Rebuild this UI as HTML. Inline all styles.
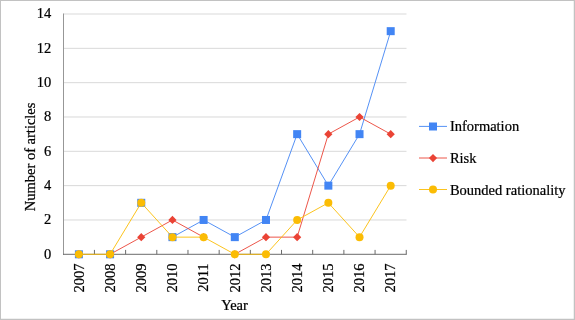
<!DOCTYPE html>
<html><head><meta charset="utf-8"><title>Chart</title>
<style>html,body{margin:0;padding:0;background:#fff}svg{display:block}text{stroke:#000;stroke-width:.22px}</style></head>
<body>
<svg width="575" height="320" viewBox="0 0 575 320" font-family="'Liberation Serif', 'Times New Roman', serif" font-size="14.5px" fill="#000">
<rect x="0" y="0" width="575" height="320" fill="#fff"/>
<rect x="0" y="0" width="575" height="1" fill="#c2c2c2"/>
<rect x="0" y="0" width="1" height="320" fill="#c2c2c2"/>
<rect x="573.75" y="0" width="1.25" height="320" fill="#c2c2c2"/>
<rect x="0" y="318.75" width="575" height="1.25" fill="#c2c2c2"/>
<line x1="63.5" x2="406.5" y1="219.97" y2="219.97" stroke="#d9d9d9" stroke-width="1"/>
<line x1="63.5" x2="406.5" y1="185.64" y2="185.64" stroke="#d9d9d9" stroke-width="1"/>
<line x1="63.5" x2="406.5" y1="151.31" y2="151.31" stroke="#d9d9d9" stroke-width="1"/>
<line x1="63.5" x2="406.5" y1="116.99" y2="116.99" stroke="#d9d9d9" stroke-width="1"/>
<line x1="63.5" x2="406.5" y1="82.66" y2="82.66" stroke="#d9d9d9" stroke-width="1"/>
<line x1="63.5" x2="406.5" y1="48.33" y2="48.33" stroke="#d9d9d9" stroke-width="1"/>
<line x1="63.5" x2="406.5" y1="14.00" y2="14.00" stroke="#d9d9d9" stroke-width="1"/>
<line x1="63.5" x2="63.5" y1="13.5" y2="254.8" stroke="#979797" stroke-width="1"/>
<line x1="63.0" x2="406.75" y1="254.3" y2="254.3" stroke="#6c6c6c" stroke-width="1"/>
<line x1="94.43" x2="94.43" y1="249.90" y2="254.3" stroke="#6a6a6a" stroke-width="1"/>
<line x1="125.61" x2="125.61" y1="249.90" y2="254.3" stroke="#6a6a6a" stroke-width="1"/>
<line x1="156.80" x2="156.80" y1="249.90" y2="254.3" stroke="#6a6a6a" stroke-width="1"/>
<line x1="187.98" x2="187.98" y1="249.90" y2="254.3" stroke="#6a6a6a" stroke-width="1"/>
<line x1="219.16" x2="219.16" y1="249.90" y2="254.3" stroke="#6a6a6a" stroke-width="1"/>
<line x1="250.34" x2="250.34" y1="249.90" y2="254.3" stroke="#6a6a6a" stroke-width="1"/>
<line x1="281.52" x2="281.52" y1="249.90" y2="254.3" stroke="#6a6a6a" stroke-width="1"/>
<line x1="312.70" x2="312.70" y1="249.90" y2="254.3" stroke="#6a6a6a" stroke-width="1"/>
<line x1="343.89" x2="343.89" y1="249.90" y2="254.3" stroke="#6a6a6a" stroke-width="1"/>
<line x1="375.07" x2="375.07" y1="249.90" y2="254.3" stroke="#6a6a6a" stroke-width="1"/>
<line x1="406.25" x2="406.25" y1="249.90" y2="254.3" stroke="#6a6a6a" stroke-width="1"/>
<text x="51.2" y="258.60" text-anchor="end">0</text>
<text x="51.2" y="224.27" text-anchor="end">2</text>
<text x="51.2" y="189.94" text-anchor="end">4</text>
<text x="51.2" y="155.61" text-anchor="end">6</text>
<text x="51.2" y="121.29" text-anchor="end">8</text>
<text x="51.2" y="86.96" text-anchor="end">10</text>
<text x="51.2" y="52.63" text-anchor="end">12</text>
<text x="51.2" y="18.30" text-anchor="end">14</text>
<text transform="translate(83.65,263.4) rotate(-90)" text-anchor="end">2007</text>
<text transform="translate(114.83,263.4) rotate(-90)" text-anchor="end">2008</text>
<text transform="translate(146.01,263.4) rotate(-90)" text-anchor="end">2009</text>
<text transform="translate(177.19,263.4) rotate(-90)" text-anchor="end">2010</text>
<text transform="translate(208.37,263.4) rotate(-90)" text-anchor="end">2011</text>
<text transform="translate(239.55,263.4) rotate(-90)" text-anchor="end">2012</text>
<text transform="translate(270.73,263.4) rotate(-90)" text-anchor="end">2013</text>
<text transform="translate(301.91,263.4) rotate(-90)" text-anchor="end">2014</text>
<text transform="translate(333.09,263.4) rotate(-90)" text-anchor="end">2015</text>
<text transform="translate(364.27,263.4) rotate(-90)" text-anchor="end">2016</text>
<text transform="translate(395.45,263.4) rotate(-90)" text-anchor="end">2017</text>
<text x="234.5" y="309.9" text-anchor="middle">Year</text>
<text transform="translate(34.8,156.9) rotate(-90)" text-anchor="middle">Number of articles</text>
<path d="M172.44 237.14L203.62 219.97L234.80 237.14L265.98 219.97L297.16 134.15L328.35 185.64L359.53 134.15L390.71 31.16" fill="none" stroke="#4285f4" stroke-width="0.9" stroke-linejoin="round"/>
<rect x="74.89" y="250.30" width="8.0" height="8.0" fill="#4285f4"/>
<rect x="106.07" y="250.30" width="8.0" height="8.0" fill="#4285f4"/>
<rect x="137.25" y="198.81" width="8.0" height="8.0" fill="#4285f4"/>
<rect x="168.44" y="233.14" width="8.0" height="8.0" fill="#4285f4"/>
<rect x="199.62" y="215.97" width="8.0" height="8.0" fill="#4285f4"/>
<rect x="230.80" y="233.14" width="8.0" height="8.0" fill="#4285f4"/>
<rect x="261.98" y="215.97" width="8.0" height="8.0" fill="#4285f4"/>
<rect x="293.16" y="130.15" width="8.0" height="8.0" fill="#4285f4"/>
<rect x="324.35" y="181.64" width="8.0" height="8.0" fill="#4285f4"/>
<rect x="355.53" y="130.15" width="8.0" height="8.0" fill="#4285f4"/>
<rect x="386.71" y="27.16" width="8.0" height="8.0" fill="#4285f4"/>
<path d="M110.07 254.30L141.25 237.14L172.44 219.97L203.62 237.14M234.80 254.30L265.98 237.14L297.16 237.14L328.35 134.15L359.53 116.99L390.71 134.15" fill="none" stroke="#ea4335" stroke-width="0.9" stroke-linejoin="round"/>
<path d="M74.79 254.30L78.89 250.20L82.99 254.30L78.89 258.40Z" fill="#ea4335"/>
<path d="M105.97 254.30L110.07 250.20L114.17 254.30L110.07 258.40Z" fill="#ea4335"/>
<path d="M137.15 237.14L141.25 233.04L145.35 237.14L141.25 241.24Z" fill="#ea4335"/>
<path d="M168.34 219.97L172.44 215.87L176.54 219.97L172.44 224.07Z" fill="#ea4335"/>
<path d="M199.52 237.14L203.62 233.04L207.72 237.14L203.62 241.24Z" fill="#ea4335"/>
<path d="M230.70 254.30L234.80 250.20L238.90 254.30L234.80 258.40Z" fill="#ea4335"/>
<path d="M261.88 237.14L265.98 233.04L270.08 237.14L265.98 241.24Z" fill="#ea4335"/>
<path d="M293.06 237.14L297.16 233.04L301.26 237.14L297.16 241.24Z" fill="#ea4335"/>
<path d="M324.25 134.15L328.35 130.05L332.45 134.15L328.35 138.25Z" fill="#ea4335"/>
<path d="M355.43 116.99L359.53 112.89L363.63 116.99L359.53 121.09Z" fill="#ea4335"/>
<path d="M386.61 134.15L390.71 130.05L394.81 134.15L390.71 138.25Z" fill="#ea4335"/>
<path d="M78.89 254.30L110.07 254.30L141.25 202.81L172.44 237.14L203.62 237.14L234.80 254.30L265.98 254.30L297.16 219.97L328.35 202.81L359.53 237.14L390.71 185.64" fill="none" stroke="#fbbc04" stroke-width="0.9" stroke-linejoin="round"/>
<circle cx="78.89" cy="254.30" r="4.0" fill="#fbbc04"/>
<circle cx="110.07" cy="254.30" r="4.0" fill="#fbbc04"/>
<circle cx="141.25" cy="202.81" r="4.0" fill="#fbbc04"/>
<circle cx="172.44" cy="237.14" r="4.0" fill="#fbbc04"/>
<circle cx="203.62" cy="237.14" r="4.0" fill="#fbbc04"/>
<circle cx="234.80" cy="254.30" r="4.0" fill="#fbbc04"/>
<circle cx="265.98" cy="254.30" r="4.0" fill="#fbbc04"/>
<circle cx="297.16" cy="219.97" r="4.0" fill="#fbbc04"/>
<circle cx="328.35" cy="202.81" r="4.0" fill="#fbbc04"/>
<circle cx="359.53" cy="237.14" r="4.0" fill="#fbbc04"/>
<circle cx="390.71" cy="185.64" r="4.0" fill="#fbbc04"/>
<line x1="419" x2="447" y1="126.40" y2="126.40" stroke="#4285f4" stroke-width="0.9"/>
<rect x="429.00" y="122.50" width="8.0" height="8.0" fill="#4285f4"/>
<text x="449.9" y="131.40">Information</text>
<line x1="419" x2="447" y1="158.00" y2="158.00" stroke="#ea4335" stroke-width="0.9"/>
<path d="M428.90 158.10L433.00 154.00L437.10 158.10L433.00 162.20Z" fill="#ea4335"/>
<text x="449.9" y="162.90">Risk</text>
<line x1="419" x2="447" y1="189.50" y2="189.50" stroke="#fbbc04" stroke-width="0.9"/>
<circle cx="433.00" cy="189.60" r="4.0" fill="#fbbc04"/>
<text x="449.9" y="194.50">Bounded rationality</text>
</svg>
</body></html>
